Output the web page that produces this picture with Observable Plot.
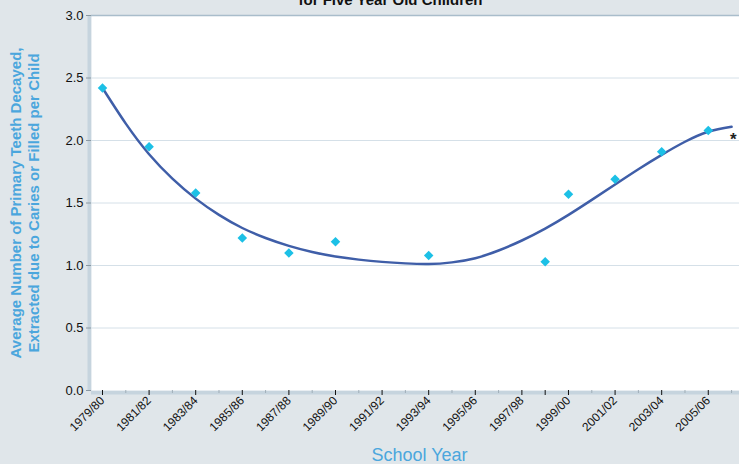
<!DOCTYPE html>
<html><head><meta charset="utf-8">
<script src="https://cdn.jsdelivr.net/npm/d3@7"></script>
<script src="https://cdn.jsdelivr.net/npm/@observablehq/plot@0.6"></script>
<style>
body{margin:0;background:#e0e6ea;}
</style></head><body><div id="chart"></div>
<script>
// Observed survey points (school year start, average dmft)
const years = [1979, 1981, 1983, 1985, 1987, 1989, 1993, 1998, 1999, 2001, 2003, 2005];
const values = [2.42, 1.95, 1.58, 1.22, 1.10, 1.19, 1.08, 1.03, 1.57, 1.69, 1.91, 2.08];

// Trend line, one value per year
const trendYears = [1979,1980,1981,1982,1983,1984,1985,1986,1987,1988,1989,1990,1991,1992,1993,1994,1995,1996,1997,1998,1999,2000,2001,2002,2003,2004,2005,2006];
const trendValues = [2.42,2.135,1.89,1.695,1.535,1.405,1.30,1.22,1.157,1.108,1.072,1.047,1.029,1.017,1.012,1.025,1.058,1.12,1.20,1.295,1.405,1.525,1.648,1.77,1.885,1.99,2.07,2.11];

// Axis ticks
const tickYears = [1979,1981,1983,1985,1987,1989,1991,1993,1995,1997,1999,2001,2003,2005];
const tickLabels = ["1979/80","1981/82","1983/84","1985/86","1987/88","1989/90","1991/92","1993/94","1995/96","1997/98","1999/00","2001/02","2003/04","2005/06"];
const extraTickYears = [1998];
const minorYears = [1980,1982,1984,1986,1988,1990,1992,1994,1996,2000,2002,2004,2006];
const yTicks = [0, 0.5, 1.0, 1.5, 2.0, 2.5, 3.0];

const titleText = "for Five Year Old Children";
const xTitle = "School Year";
const yTitle = "Average Number of Primary Teeth Decayed,\nExtracted due to Caries or Filled per Child";
const notes = [{year: 2005, value: 2.08, text: "*"}];

const points = years.map((y, i) => ({year: y, value: values[i]}));
const trend = trendYears.map((y, i) => ({year: y, value: trendValues[i]}));

const blue = "#4ba6dd";

const chart = Plot.plot({
  width: 739, height: 464,
  marginLeft: 91, marginRight: 0, marginTop: 15, marginBottom: 74,
  style: {background: "#e0e6ea", fontFamily: "'Liberation Sans', Arial, sans-serif", color: "#111"},
  x: {domain: [1978.528, 2006.34]},
  y: {domain: [0, 3]},
  marks: [
    Plot.ruleY([0], {stroke: "#c6d4de", strokeWidth: 4, dy: 2}),
    Plot.ruleX([1978.528], {y1: 0, y2: 3, stroke: "#c6d4de", strokeWidth: 4, dx: -2}),
    Plot.frame({fill: "white"}),
    Plot.gridY(yTicks.slice(1, -1), {stroke: "#d5e0e8", strokeOpacity: 1}),
    Plot.ruleY([3], {stroke: "#a9bdcb", strokeWidth: 1.5}),
    Plot.axisY(yTicks, {tickSize: 5, tickPadding: 3, fontSize: 13, tickFormat: d => d.toFixed(1), label: null, stroke: "#8a98a2"}),
    Plot.axisX(minorYears, {tickSize: 3, fill: "none", label: null, stroke: "#a0aeb8"}),
    Plot.axisX(extraTickYears, {tickSize: 5, fill: "none", label: null, stroke: "#111"}),
    Plot.axisX(tickYears, {tickSize: 5, tickPadding: 3, tickRotate: -45, fontSize: 12, label: null,
      tickFormat: d => tickLabels[tickYears.indexOf(d)], stroke: "#111"}),
    Plot.line(trend, {x: "year", y: "value", curve: "natural", stroke: "#3f5ea8", strokeWidth: 2.5}),
    Plot.dot(points, {x: "year", y: "value", symbol: "diamond2", r: 4.3, fill: "#1cc0e6", stroke: "none"}),
    Plot.text(notes, {x: "year", y: "value", text: "text", dx: 25, dy: 9, fontSize: 17, fontWeight: "bold", fill: "#222"}),
    Plot.text([titleText], {frameAnchor: "top", lineAnchor: "bottom", dy: -11, dx: -25, fontSize: 15, fontWeight: "bold", fill: "#111"}),
    Plot.text([xTitle], {frameAnchor: "bottom", lineAnchor: "bottom", dy: 70, dx: 4, fontSize: 18, fill: blue}),
    Plot.text([yTitle], {frameAnchor: "left", textAnchor: "middle", rotate: -90, dx: -67, fontSize: 15, fontWeight: "bold", fill: blue, lineHeight: 1.2})
  ]
});
document.getElementById("chart").appendChild(chart);
</script>
</body></html>
